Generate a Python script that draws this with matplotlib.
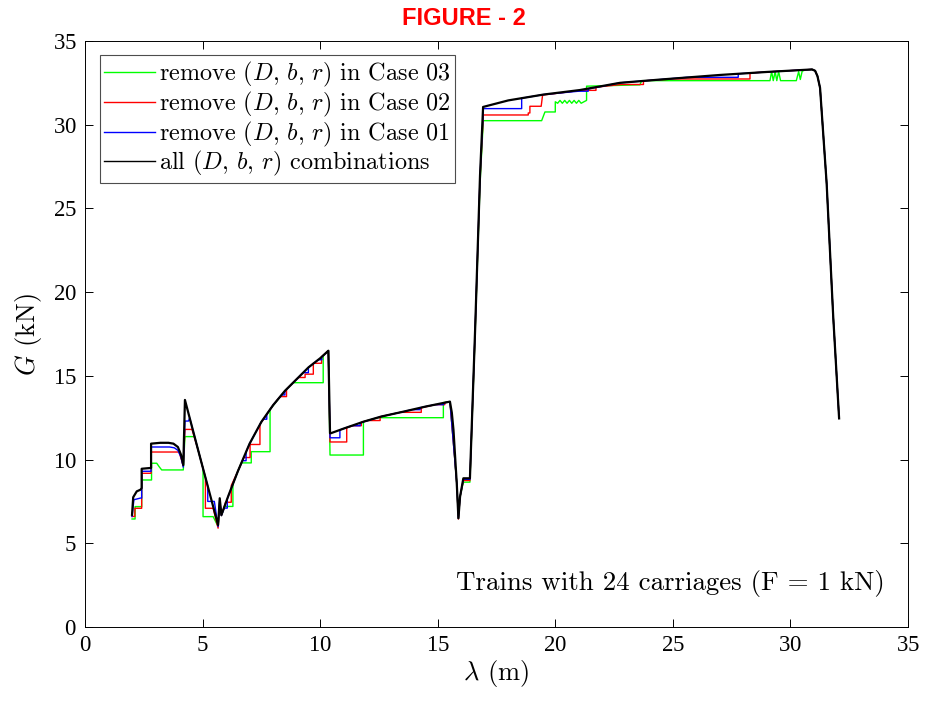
import matplotlib
matplotlib.use("Agg")
import matplotlib.pyplot as plt

# G vs lambda for trains with 24 carriages
# all (D, b, r) combinations
bx = [2.00, 2.05, 2.20, 2.36, 2.41, 2.41, 2.81, 2.81, 3.20, 3.55, 3.76, 3.95, 4.08, 4.18,
      4.25, 4.81, 5.66, 5.73, 5.80, 6.10, 6.50, 7.00, 7.50, 8.00, 8.50, 9.00, 9.50, 10.00,
      10.35, 10.42, 10.45, 11.00, 11.84, 12.60, 13.54, 14.50, 15.52, 15.60, 15.67, 15.81,
      15.88, 15.95, 16.09, 16.37, 16.59, 16.80, 16.93, 18.00, 19.50, 21.05, 22.75, 24.50,
      27.00, 29.00, 30.92, 31.05, 31.15, 31.26, 31.54, 31.82, 32.07]
by = [6.70, 7.75, 8.10, 8.20, 8.30, 9.45, 9.50, 10.95, 11.00, 11.00, 10.95, 10.75, 10.30, 9.67,
      13.56, 10.57, 6.09, 7.69, 6.69, 7.85, 9.30, 10.95, 12.25, 13.25, 14.10, 14.80, 15.50, 16.05,
      16.50, 11.57, 11.57, 11.85, 12.26, 12.57, 12.86, 13.17, 13.46, 12.80, 11.77, 8.58,
      6.49, 7.78, 8.88, 8.88, 17.74, 27.00, 31.06, 31.45, 31.80, 32.07, 32.50, 32.70,
      32.97, 33.15, 33.30, 33.22, 32.90, 32.20, 26.50, 18.53, 12.46]

# remove (D, b, r) in Case 01
ux = [2.00, 2.08, 2.36, 2.41, 2.41, 2.81, 2.81, 3.60, 3.80, 3.95, 4.08, 4.18, 4.25, 4.40,
      4.45, 4.81, 5.22, 5.22, 5.50, 5.66, 5.73, 5.80, 5.92, 6.05, 6.05, 6.50, 6.70, 6.85,
      6.85, 7.00, 7.50, 7.58, 7.73, 7.73, 8.00, 8.36, 8.50, 8.50, 9.00, 9.28, 9.50, 9.50,
      9.92, 10.07, 10.07, 10.35, 10.42, 10.84, 10.84, 11.00, 11.34, 11.70, 11.70, 12.60,
      13.54, 13.90, 14.25, 14.25, 14.50, 14.90, 15.25, 15.25, 15.52, 15.81, 15.88, 15.95,
      16.09, 16.37, 16.59, 16.80, 16.94, 18.57, 18.57, 19.50, 21.00, 21.40, 21.40, 22.75,
      24.50, 25.60, 27.78, 27.78, 29.00, 30.92, 31.05, 31.15, 31.26, 31.54, 31.82, 32.07]
uy = [6.60, 7.60, 7.70, 7.70, 9.30, 9.30, 10.75, 10.75, 10.70, 10.55, 10.15, 9.55, 12.30, 12.30,
      12.49, 10.57, 8.41, 7.50, 7.50, 6.00, 7.60, 6.65, 7.10, 7.10, 7.65, 9.30, 9.93, 9.93,
      10.46, 10.95, 12.25, 12.41, 12.41, 12.70, 13.25, 13.86, 13.86, 14.10, 14.80, 15.19, 15.19, 15.50,
      15.96, 15.96, 16.13, 16.50, 11.30, 11.30, 11.77, 11.85, 12.02, 12.02, 12.19, 12.57,
      12.86, 12.98, 12.98, 13.09, 13.17, 13.28, 13.28, 13.38, 13.46, 8.58, 6.49, 7.78,
      8.82, 8.82, 17.70, 26.90, 30.96, 30.96, 31.58, 31.80, 32.00, 32.00, 32.13, 32.50,
      32.70, 32.83, 32.83, 33.04, 33.15, 33.30, 33.22, 32.90, 32.20, 26.50, 18.53, 12.46]

# remove (D, b, r) in Case 02
rx = [2.00, 2.12, 2.12, 2.41, 2.41, 2.81, 2.81, 4.00, 4.10, 4.18, 4.25, 4.55, 4.81, 5.12,
      5.12, 5.45, 5.66, 5.73, 5.80, 5.98, 6.22, 6.22, 6.50, 6.75, 7.02, 7.02, 7.44, 7.44,
      8.00, 8.30, 8.57, 8.57, 9.07, 9.36, 9.36, 9.71, 9.71, 10.06, 10.06, 10.35, 10.42,
      11.13, 11.13, 11.40, 11.75, 11.75, 12.00, 12.55, 12.55, 13.40, 14.30, 14.30, 14.90,
      15.30, 15.30, 15.52, 15.81, 15.88, 15.95, 16.09, 16.37, 16.59, 16.80, 16.94, 18.85,
      18.85, 18.92, 18.92, 19.40, 19.46, 21.10, 21.73, 21.73, 22.80, 23.75, 23.75, 25.02,
      28.28, 28.28, 29.00, 30.92, 31.05, 31.15, 31.26, 31.54, 31.82, 32.07]
ry = [6.60, 6.60, 7.09, 7.09, 9.18, 9.18, 10.45, 10.45, 10.00, 9.60, 11.80, 11.80, 10.57, 8.94,
      7.09, 7.09, 5.90, 7.55, 6.65, 7.45, 7.45, 8.45, 9.30, 10.12, 10.12, 10.90, 10.90, 12.10,
      13.25, 13.76, 13.76, 14.20, 14.90, 14.90, 15.10, 15.10, 15.75, 15.75, 16.13, 16.50, 11.05,
      11.05, 11.90, 12.02, 12.02, 12.22, 12.33, 12.33, 12.55, 12.82, 12.82, 13.09, 13.28,
      13.28, 13.40, 13.46, 8.58, 6.45, 7.78, 8.75, 8.75, 17.60, 26.80, 30.58, 30.58,
      30.70, 30.70, 31.10, 31.10, 31.77, 32.05, 32.05, 32.24, 32.40, 32.40, 32.62, 32.73,
      32.73, 33.09, 33.15, 33.30, 33.22, 32.90, 32.20, 26.50, 18.53, 12.46]

# remove (D, b, r) in Case 03
gx = [2.00, 2.13, 2.13, 2.41, 2.41, 2.83, 2.83, 3.05, 3.15, 3.26, 4.18, 4.25, 4.66, 4.81,
      5.02, 5.02, 5.45, 5.66, 5.73, 5.80, 5.94, 6.29, 6.29, 6.50, 6.65, 7.07, 7.07, 7.87,
      7.87, 8.50, 8.85, 10.13, 10.13, 10.35, 10.42, 11.84, 11.84, 12.47, 15.24, 15.24, 15.52,
      15.81, 15.88, 15.95, 16.09, 16.37, 16.59, 16.80, 16.94, 19.42, 19.56, 20.00, 20.00,
      20.10, 20.20, 20.30, 20.40, 20.50, 20.60, 20.70, 20.80, 20.90, 21.00, 21.10, 21.26,
      21.33, 21.33, 23.60, 23.67, 28.70, 29.13, 29.20, 29.27, 29.35, 29.42, 29.50, 29.58,
      30.25, 30.35, 30.42, 30.50, 30.60, 30.92, 31.05, 31.15, 31.26, 31.54, 31.82, 32.07]
gy = [6.45, 6.45, 7.19, 7.19, 8.78, 8.78, 9.78, 9.78, 9.58, 9.38, 9.38, 11.37, 11.37, 10.57,
      9.46, 6.59, 6.59, 6.00, 7.50, 6.65, 7.20, 7.20, 8.54, 9.30, 9.80, 9.80, 10.47, 10.47,
      12.99, 14.10, 14.59, 14.59, 16.20, 16.50, 10.27, 10.27, 12.26, 12.50, 12.50, 13.40, 13.46,
      8.58, 6.49, 7.78, 8.65, 8.65, 17.50, 26.50, 30.24, 30.24, 30.76, 30.76, 31.37,
      31.28, 31.45, 31.28, 31.45, 31.28, 31.45, 31.28, 31.45, 31.28, 31.45, 31.28, 31.40,
      31.45, 32.30, 32.38, 32.63, 32.63, 32.63, 33.17, 32.63, 33.17, 32.63, 33.17, 32.63,
      32.63, 33.17, 32.70, 33.20, 33.25, 33.30, 33.22, 32.90, 32.20, 26.50, 18.53, 12.46]

labels = [r'remove $(D,\,b,\,r)$ in Case 03',
          r'remove $(D,\,b,\,r)$ in Case 02',
          r'remove $(D,\,b,\,r)$ in Case 01',
          r'all $(D,\,b,\,r)$ combinations']

plt.rcParams['font.family'] = 'Liberation Serif'
plt.rcParams['mathtext.fontset'] = 'cm'
plt.rcParams['axes.formatter.use_mathtext'] = True

fig = plt.figure(figsize=(9.27, 7.04), dpi=100)
ax = fig.add_axes([0.0917, 0.1094, 0.8878, 0.8324])

ax.plot(gx, gy, color=(0, 1, 0), lw=1.0, label=labels[0])
ax.plot(rx, ry, color=(1, 0, 0), lw=1.0, label=labels[1])
ax.plot(ux, uy, color=(0, 0, 1), lw=1.0, label=labels[2])
ax.plot(bx, by, color='k', lw=1.6, label=labels[3])

ax.set_xlim(0, 35)
ax.set_ylim(0, 35)
ax.set_xticks(range(0, 36, 5))
ax.set_yticks(range(0, 36, 5))
ax.tick_params(direction='in', top=True, right=True, length=6, width=0.7,
               labelsize=16.5, pad=6)
for s in ax.spines.values():
    s.set_linewidth(0.7)

ax.set_xlabel(r'$\lambda$ (m)', family='cmr10', fontsize=19, labelpad=1)
ax.set_ylabel(r'$G$ (kN)', family='cmr10', fontsize=19, labelpad=6)

ax.text(34.0, 2.6, 'Trains with 24 carriages (F = 1 kN)', family='cmr10',
        fontsize=19.4, ha='right', va='center')

leg = ax.legend(loc='upper left', prop={'family': 'cmr10', 'size': 17.4},
                handlelength=2.1, handletextpad=0.15, borderpad=0.2,
                labelspacing=0.02, borderaxespad=0.6, fancybox=False,
                framealpha=1, edgecolor='0.3')
leg.get_frame().set_linewidth(0.8)
for ln in leg.get_lines():
    ln.set_linewidth(1.0)

fig.text(0.5, 0.974, 'FIGURE - 2', color='red', fontweight='bold',
         family='Liberation Sans', fontsize=17, ha='center', va='center')

fig.savefig('out.png', dpi=100)
